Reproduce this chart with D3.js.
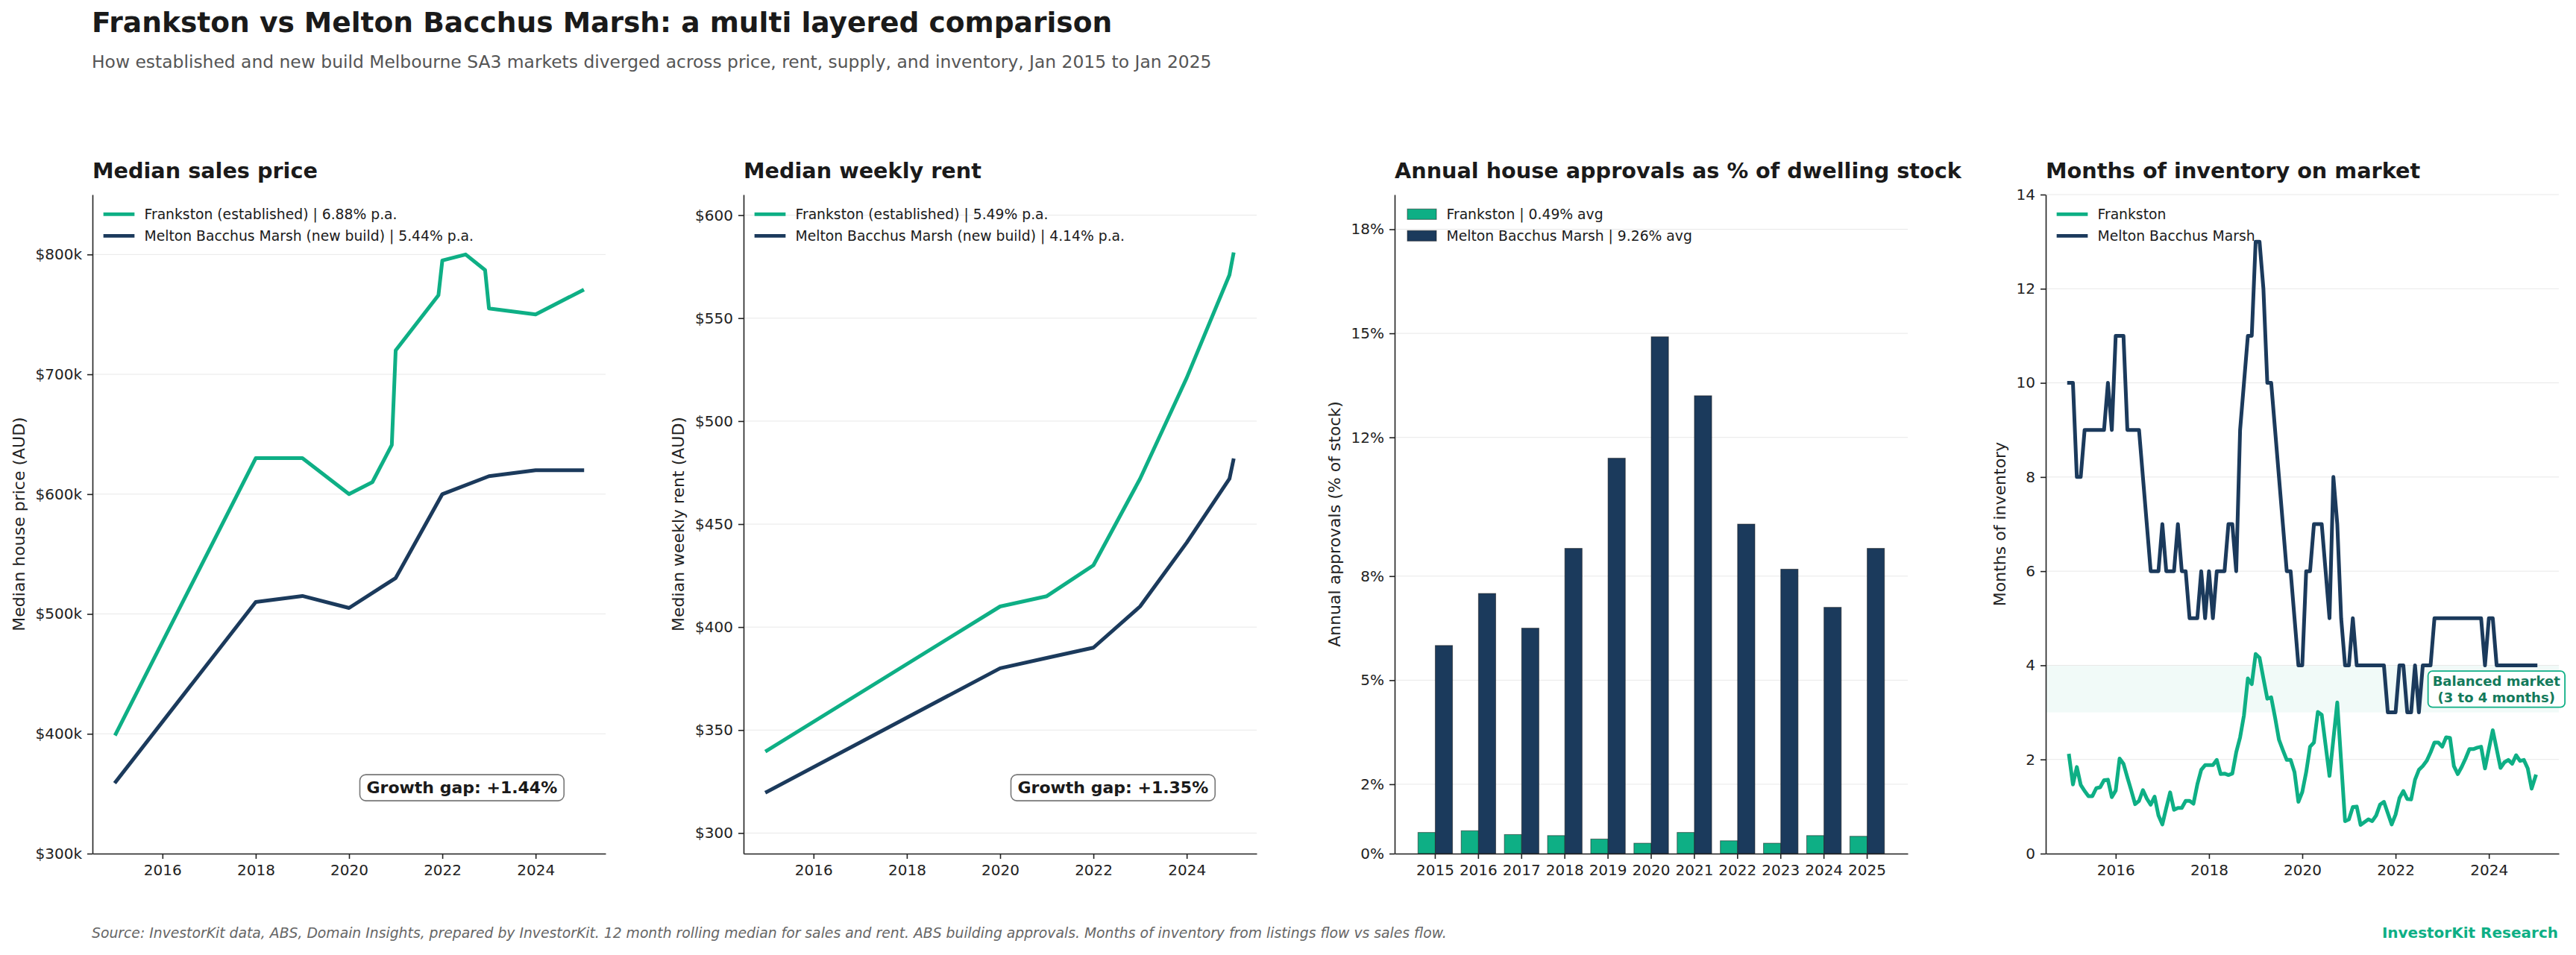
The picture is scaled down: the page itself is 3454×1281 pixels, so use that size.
<!DOCTYPE html>
<html>
<head>
<meta charset="utf-8">
<script src="https://cdn.jsdelivr.net/npm/d3@7"></script>
<style>
  body { margin: 0; background: #fff; }
  svg { display: block; font-family: "DejaVu Sans", sans-serif; }
</style>
</head>
<body>
<div id="graf"></div>
<script>
// Data
const verde = "#0EAF85"
const azul = "#1B3A5C"

// Median sales price ($k)
const priceFrankstonDates = [2015, 2018, 2019, 2020, 2020.5, 2020 + 11 / 12, 2021, 2021 + 11 / 12, 2022, 2022.5, 2022 + 11 / 12, 2023, 2024, 2025]
const priceFrankston = [400, 630, 630, 600, 610, 641, 720, 766, 795, 800, 787, 755, 750, 770]
const priceMeltonDates = [2015, 2018, 2019, 2020, 2021, 2022, 2023, 2024, 2025]
const priceMelton = [360, 510, 515, 505, 530, 600, 615, 620, 620]
const priceTicks = [300, 400, 500, 600, 700, 800]

// Median weekly rent ($)
const rentDates = [2015, 2020, 2021, 2022, 2023, 2024, 2024 + 11 / 12, 2025]
const rentFrankston = [340, 410, 415, 430, 472, 521, 571, 581]
const rentMelton = [320, 380, 385, 390, 410, 441, 472, 481]
const rentTicks = [300, 350, 400, 450, 500, 550, 600]

// Annual approvals (% of stock)
const approvalYears = [2015, 2016, 2017, 2018, 2019, 2020, 2021, 2022, 2023, 2024, 2025]
const approvalsFrankston = [0.61, 0.66, 0.55, 0.52, 0.42, 0.3, 0.61, 0.37, 0.3, 0.52, 0.5]
const approvalsMelton = [6.0, 7.5, 6.5, 8.8, 11.4, 14.9, 13.2, 9.5, 8.2, 7.1, 8.8]
const approvalTicks = [0, 2, 5, 8, 12, 15, 18]

// Months of inventory, monthly Jan 2015 .. Jan 2025
const invFrankston = [
  2.08, 1.47, 1.84, 1.46, 1.33, 1.22, 1.22, 1.39, 1.41, 1.56, 1.57, 1.2,
  1.34, 2.02, 1.91, 1.62, 1.34, 1.05, 1.12, 1.35, 1.17, 1.04, 1.21, 0.81,
  0.62, 0.97, 1.3, 0.93, 0.97, 0.97, 1.12, 1.12, 1.06, 1.47, 1.78, 1.88,
  1.88, 1.88, 1.99, 1.69, 1.7, 1.67, 1.7, 2.15, 2.47, 2.94, 3.72, 3.6,
  4.24, 4.16, 3.72, 3.29, 3.32, 2.89, 2.42, 2.2, 1.99, 1.99, 1.73, 1.1,
  1.31, 1.73, 2.27, 2.36, 3.01, 2.95, 2.3, 1.65, 2.43, 3.21, 1.95, 0.69,
  0.73, 0.99, 1.0, 0.61, 0.67, 0.73, 0.69, 0.81, 1.04, 1.1, 0.86, 0.62,
  0.83, 1.18, 1.33, 1.16, 1.15, 1.57, 1.78, 1.86, 1.97, 2.15, 2.36, 2.36,
  2.27, 2.47, 2.46, 1.86, 1.69, 1.84, 2.02, 2.22, 2.22, 2.25, 2.27, 1.81,
  2.22, 2.62, 2.22, 1.82, 1.94, 1.99, 1.91, 2.09, 1.97, 1.99, 1.81, 1.38,
  1.64,
]
const invMelton = [
  10, 10, 8, 8, 9, 9, 9, 9, 9, 9, 10, 9,
  11, 11, 11, 9, 9, 9, 9, 8, 7, 6, 6, 6,
  7, 6, 6, 6, 7, 6, 6, 5, 5, 5, 6, 5,
  6, 5, 6, 6, 6, 7, 7, 6, 9, 10, 11, 11,
  13, 13, 12, 10, 10, 9, 8, 7, 6, 6, 5, 4,
  4, 6, 6, 7, 7, 7, 6, 5, 8, 7, 5, 4,
  4, 5, 4, 4, 4, 4, 4, 4, 4, 4, 3, 3,
  3, 4, 4, 3, 3, 4, 3, 4, 4, 4, 5, 5,
  5, 5, 5, 5, 5, 5, 5, 5, 5, 5, 5, 4,
  5, 5, 4, 4, 4, 4, 4, 4, 4, 4, 4, 4,
  4,
]
const invTicks = [0, 2, 4, 6, 8, 10, 12, 14]
const yearTicks = [2016, 2018, 2020, 2022, 2024]

// Layout
const anchoTotal = 3454
const altoTotal = 1281
const lefts = [124, 997, 1870, 2743]
const arriba = 261
const ancho = 688
const alto = 884

const svg = d3
  .select("#graf")
  .append("svg")
  .attr("width", anchoTotal)
  .attr("height", altoTotal)

svg.append("rect").attr("width", anchoTotal).attr("height", altoTotal).attr("fill", "#fff")

svg
  .append("text")
  .attr("x", 123)
  .attr("y", 43)
  .attr("fill", "#1a1a1a")
  .style("font-size", "37.6px")
  .style("font-weight", "bold")
  .text("Frankston vs Melton Bacchus Marsh: a multi layered comparison")

svg
  .append("text")
  .attr("x", 123)
  .attr("y", 91)
  .attr("fill", "#555")
  .style("font-size", "23.4px")
  .text("How established and new build Melbourne SA3 markets diverged across price, rent, supply, and inventory, Jan 2015 to Jan 2025")

svg
  .append("text")
  .attr("x", 123)
  .attr("y", 1258)
  .attr("fill", "#666")
  .style("font-size", "18.8px")
  .style("font-style", "italic")
  .text("Source: InvestorKit data, ABS, Domain Insights, prepared by InvestorKit. 12 month rolling median for sales and rent. ABS building approvals. Months of inventory from listings flow vs sales flow.")

svg
  .append("text")
  .attr("x", 3430)
  .attr("y", 1258)
  .attr("text-anchor", "end")
  .attr("fill", verde)
  .style("font-size", "20px")
  .style("font-weight", "bold")
  .text("InvestorKit Research")

// Helpers
const panel = (i, titulo) => {
  const g = svg.append("g").attr("transform", `translate(${lefts[i]}, ${arriba})`)
  g.append("text")
    .attr("x", 0)
    .attr("y", -22)
    .attr("fill", "#1a1a1a")
    .style("font-size", "28.7px")
    .style("font-weight", "bold")
    .text(titulo)
  return {
    grid: g.append("g"),
    marks: g.append("g"),
    axes: g.append("g"),
    top: g.append("g"),
  }
}

const styleAxis = (ax) => {
  ax.attr("font-family", null).attr("font-size", null)
  ax.select(".domain").attr("stroke", "#222").attr("stroke-width", 1.6)
  ax.selectAll(".tick line").attr("stroke", "#222").attr("stroke-width", 1.6)
  ax.selectAll(".tick text").attr("fill", "#222").style("font-size", "20px")
}

const drawYAxis = (p, y, ticks, fmt, label) => {
  p.grid
    .selectAll("line")
    .data(ticks)
    .join("line")
    .attr("x1", 0)
    .attr("x2", ancho)
    .attr("y1", (d) => y(d))
    .attr("y2", (d) => y(d))
    .attr("stroke", "#e8e8e8")
    .attr("stroke-width", 1)
  const ax = p.axes
    .append("g")
    .call(d3.axisLeft(y).tickValues(ticks).tickFormat(fmt).tickSize(7).tickPadding(7).tickSizeOuter(0))
  styleAxis(ax)
  const maxW = d3.max(ax.selectAll(".tick text").nodes(), (n) => n.getComputedTextLength())
  p.axes
    .append("text")
    .attr("transform", `translate(${-(maxW + 36.5)}, ${alto / 2}) rotate(-90)`)
    .attr("text-anchor", "middle")
    .attr("dominant-baseline", "central")
    .attr("fill", "#222")
    .style("font-size", "22px")
    .text(label)
}

const drawXAxis = (p, axis) => {
  const ax = p.axes.append("g").attr("transform", `translate(0, ${alto})`).call(axis)
  styleAxis(ax)
}

const legendRow = (k) => 26.3 + k * 29

const lineLegend = (p, items) => {
  items.forEach((it, k) => {
    const yy = legendRow(k)
    p.top.append("line")
      .attr("x1", 17).attr("x2", 54).attr("y1", yy).attr("y2", yy)
      .attr("stroke", it.color).attr("stroke-width", 4.7).attr("stroke-linecap", "square")
    p.top.append("text")
      .attr("x", 69.5).attr("y", yy).attr("dominant-baseline", "central")
      .attr("fill", "#1a1a1a").style("font-size", "18.75px").text(it.label)
  })
}

const gapBox = (p, texto) => {
  const t = p.top
    .append("text")
    .attr("x", ancho * 0.72)
    .attr("y", alto * 0.9)
    .attr("text-anchor", "middle")
    .attr("dominant-baseline", "central")
    .attr("fill", "#1a1a1a")
    .style("font-size", "22px")
    .style("font-weight", "bold")
    .text(texto)
  const b = t.node().getBBox()
  p.top
    .insert("rect", "text:last-child")
    .attr("x", b.x - 9)
    .attr("y", b.y - 5)
    .attr("width", b.width + 18)
    .attr("height", b.height + 10)
    .attr("rx", 8)
    .attr("fill", "#fff")
    .attr("stroke", "#777")
    .attr("stroke-width", 1.6)
  t.raise()
}

const drawLine = (p, dates, values, x, y, color) => {
  p.marks
    .append("path")
    .datum(d3.zip(dates, values))
    .attr("fill", "none")
    .attr("stroke", color)
    .attr("stroke-width", 5)
    .attr("stroke-linejoin", "round")
    .attr("stroke-linecap", "square")
    .attr("d", d3.line().x((d) => x(d[0])).y((d) => y(d[1])))
}

const xYears = d3.scaleLinear().domain([2014.5, 2025.5]).range([0, ancho])
const xYearAxis = d3.axisBottom(xYears).tickValues(yearTicks).tickFormat(d3.format("d")).tickSize(7).tickPadding(8).tickSizeOuter(0)

// Panel 1: price
const p1 = panel(0, "Median sales price")
const yPrice = d3.scaleLinear().domain([300, 850]).range([alto, 0])
drawYAxis(p1, yPrice, priceTicks, (d) => `$${d}k`, "Median house price (AUD)")
drawLine(p1, priceFrankstonDates, priceFrankston, xYears, yPrice, verde)
drawLine(p1, priceMeltonDates, priceMelton, xYears, yPrice, azul)
drawXAxis(p1, xYearAxis)
lineLegend(p1, [
  { label: "Frankston (established) | 6.88% p.a.", color: verde },
  { label: "Melton Bacchus Marsh (new build) | 5.44% p.a.", color: azul },
])
gapBox(p1, "Growth gap: +1.44%")

// Panel 2: rent
const p2 = panel(1, "Median weekly rent")
const yRent = d3.scaleLinear().domain([290, 610]).range([alto, 0])
drawYAxis(p2, yRent, rentTicks, (d) => `$${d}`, "Median weekly rent (AUD)")
drawLine(p2, rentDates, rentFrankston, xYears, yRent, verde)
drawLine(p2, rentDates, rentMelton, xYears, yRent, azul)
drawXAxis(p2, xYearAxis)
lineLegend(p2, [
  { label: "Frankston (established) | 5.49% p.a.", color: verde },
  { label: "Melton Bacchus Marsh (new build) | 4.14% p.a.", color: azul },
])
gapBox(p2, "Growth gap: +1.35%")

// Panel 3: approvals
const p3 = panel(2, "Annual house approvals as % of dwelling stock")
const yAppr = d3.scaleLinear().domain([0, 19]).range([alto, 0])
const xAppr = d3.scaleBand().domain(approvalYears).range([0, ancho]).paddingInner(0.2).paddingOuter(0.54)
drawYAxis(p3, yAppr, approvalTicks, (d) => `${d}%`, "Annual approvals (% of stock)")
const series3 = [
  { values: approvalsFrankston, color: verde, off: 0 },
  { values: approvalsMelton, color: azul, off: 1 },
]
series3.forEach((s) => {
  p3.marks
    .append("g")
    .selectAll("rect")
    .data(d3.zip(approvalYears, s.values))
    .join("rect")
    .attr("x", (d) => xAppr(d[0]) + (s.off * xAppr.bandwidth()) / 2)
    .attr("y", (d) => yAppr(d[1]))
    .attr("width", xAppr.bandwidth() / 2)
    .attr("height", (d) => alto - yAppr(d[1]))
    .attr("fill", s.color)
    .attr("stroke", "#1a1a1a")
    .attr("stroke-opacity", 0.55)
    .attr("stroke-width", 1)
})
drawXAxis(p3, d3.axisBottom(xAppr).tickSize(7).tickPadding(8).tickSizeOuter(0))
const barLegend = [
  { label: "Frankston | 0.49% avg", color: verde },
  { label: "Melton Bacchus Marsh | 9.26% avg", color: azul },
]
barLegend.forEach((it, k) => {
  const yy = legendRow(k)
  p3.top.append("rect")
    .attr("x", 17).attr("y", yy - 7).attr("width", 39).attr("height", 14)
    .attr("fill", it.color).attr("stroke", "#1a1a1a").attr("stroke-opacity", 0.55)
  p3.top.append("text")
    .attr("x", 69.5).attr("y", yy).attr("dominant-baseline", "central")
    .attr("fill", "#1a1a1a").style("font-size", "18.75px").text(it.label)
})

// Panel 4: inventory
const p4 = panel(3, "Months of inventory on market")
const yInv = d3.scaleLinear().domain([0, 14]).range([alto, 0])
const invDates = invFrankston.map((_, i) => 2015 + i / 12)
p4.grid
  .append("rect")
  .attr("x", 0)
  .attr("y", yInv(4))
  .attr("width", ancho)
  .attr("height", yInv(3) - yInv(4))
  .attr("fill", verde)
  .attr("fill-opacity", 0.06)
drawYAxis(p4, yInv, invTicks, d3.format("d"), "Months of inventory")
drawLine(p4, invDates, invFrankston, xYears, yInv, verde)
drawLine(p4, invDates, invMelton, xYears, yInv, azul)
drawXAxis(p4, xYearAxis)
lineLegend(p4, [
  { label: "Frankston", color: verde },
  { label: "Melton Bacchus Marsh", color: azul },
])

const balG = p4.top.append("g")
const balT = balG
  .append("text")
  .attr("x", xYears(2024.16))
  .attr("y", yInv(3.5))
  .attr("text-anchor", "middle")
  .attr("fill", "#137a5b")
  .style("font-size", "18px")
  .style("font-weight", "bold")
balT.append("tspan").attr("x", xYears(2024.16)).attr("dy", "-0.22em").text("Balanced market")
balT.append("tspan").attr("x", xYears(2024.16)).attr("dy", "1.2em").text("(3 to 4 months)")
const bb = balT.node().getBBox()
balG
  .insert("rect", "text")
  .attr("x", bb.x - 6)
  .attr("y", bb.y - 3)
  .attr("width", bb.width + 12)
  .attr("height", bb.height + 6)
  .attr("rx", 6)
  .attr("fill", "#fff")
  .attr("fill-opacity", 0.92)
  .attr("stroke", verde)
  .attr("stroke-width", 1.8)
</script>
</body>
</html>
